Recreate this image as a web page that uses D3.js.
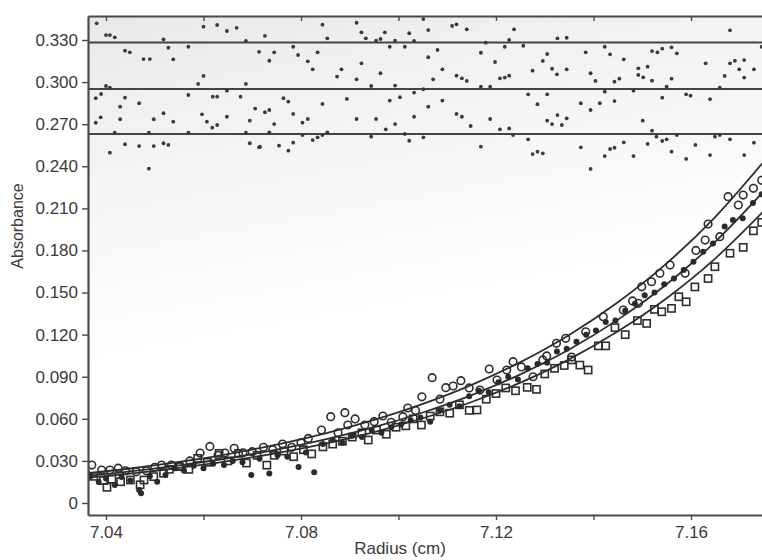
<!DOCTYPE html>
<html>
<head>
<meta charset="utf-8">
<script src="https://cdn.jsdelivr.net/npm/d3@7"></script>
<style>
  body { margin: 0; background: #fff; }
  text { font-family: "Liberation Sans", Arial, sans-serif; }
</style>
</head>
<body>
<svg id="chart" width="762" height="560"></svg>
<script>
// ---- Data -------------------------------------------------------------
// Sedimentation-equilibrium scans: radius (cm) vs absorbance, three loadings.
const openCircles = [
  [7.0355,0.0265],[7.0371,0.0270],[7.0391,0.0235],[7.0408,0.0235],[7.0425,0.0248],
  [7.0440,0.0230],[7.0462,0.0222],[7.0483,0.0230],[7.0500,0.0255],[7.0514,0.0270],
  [7.0534,0.0270],[7.0552,0.0262],[7.0572,0.0300],[7.0593,0.0356],[7.0613,0.0403],
  [7.0630,0.0340],[7.0644,0.0356],[7.0663,0.0390],[7.0681,0.0358],[7.0700,0.0366],
  [7.0723,0.0397],[7.0742,0.0380],[7.0762,0.0420],[7.0781,0.0397],[7.0800,0.0430],
  [7.0815,0.0460],[7.0842,0.0520],[7.0861,0.0615],[7.0876,0.0500],[7.0890,0.0644],
  [7.0896,0.0556],[7.0911,0.0599],[7.0931,0.0556],[7.0950,0.0580],[7.0968,0.0620],
  [7.0985,0.0575],[7.1009,0.0615],[7.1019,0.0677],[7.1035,0.0660],[7.1048,0.0757],
  [7.1069,0.0893],[7.1085,0.0740],[7.1097,0.0822],[7.1112,0.0834],[7.1128,0.0872],
  [7.1145,0.0820],[7.1167,0.0805],[7.1186,0.0955],[7.1202,0.0876],[7.1222,0.0948],
  [7.1235,0.1007],[7.1252,0.0970],[7.1276,0.0900],[7.1296,0.1020],[7.1304,0.1048],
  [7.1324,0.1138],[7.1343,0.1174],[7.1355,0.1040],[7.1384,0.1220],[7.1420,0.1328],
  [7.1461,0.1375],[7.1480,0.1440],[7.1492,0.1423],[7.1499,0.1541],[7.1519,0.1577],
  [7.1536,0.1637],[7.1557,0.1696],[7.1588,0.1637],[7.1610,0.1800],[7.1629,0.1874],
  [7.1635,0.1988],[7.1659,0.1898],[7.1676,0.2183],[7.1697,0.2124],[7.1707,0.2195],
  [7.1728,0.2243],[7.1745,0.2300]
];

const filledDots = [
  [7.0360,0.0164],[7.0368,0.0190],[7.0385,0.0150],[7.0400,0.0175],[7.0418,0.0128],
  [7.0432,0.0185],[7.0450,0.0160],[7.0468,0.0093],[7.0472,0.0069],[7.0490,0.0190],
  [7.0505,0.0152],[7.0522,0.0200],[7.0540,0.0247],[7.0560,0.0230],[7.0580,0.0265],
  [7.0600,0.0247],[7.0620,0.0280],[7.0642,0.0270],[7.0660,0.0300],[7.0680,0.0290],
  [7.0698,0.0200],[7.0715,0.0315],[7.0735,0.0210],[7.0752,0.0340],[7.0772,0.0330],
  [7.0795,0.0256],[7.0810,0.0360],[7.0827,0.0220],[7.0845,0.0420],[7.0865,0.0450],
  [7.0885,0.0430],[7.0905,0.0480],[7.0925,0.0470],[7.0945,0.0520],[7.0965,0.0500],
  [7.0985,0.0540],[7.1005,0.0560],[7.1025,0.0590],[7.1045,0.0610],[7.1065,0.0580],
  [7.1085,0.0660],[7.1105,0.0700],[7.1125,0.0690],[7.1145,0.0760],[7.1165,0.0800],
  [7.1185,0.0790],[7.1205,0.0860],[7.1225,0.0900],[7.1245,0.0880],[7.1265,0.0960],
  [7.1285,0.0990],[7.1305,0.1000],[7.1325,0.1080],[7.1345,0.1100],[7.1365,0.1150],
  [7.1385,0.1200],[7.1405,0.1230],[7.1425,0.1290],[7.1445,0.1300],[7.1465,0.1370],
  [7.1485,0.1420],[7.1505,0.1480],[7.1525,0.1500],[7.1545,0.1560],[7.1565,0.1600],
  [7.1585,0.1660],[7.1605,0.1720],[7.1625,0.1790],[7.1645,0.1850],[7.1669,0.1970],
  [7.1686,0.2017],[7.1706,0.2030],[7.1727,0.2138],[7.1745,0.2200]
];

const openSquares = [
  [7.0358,0.0200],[7.0375,0.0190],[7.0395,0.0160],[7.0402,0.0112],[7.0412,0.0170],
  [7.0430,0.0152],[7.0450,0.0164],[7.0470,0.0130],[7.0478,0.0164],[7.0498,0.0188],
  [7.0518,0.0212],[7.0530,0.0240],[7.0550,0.0259],[7.0570,0.0240],[7.0588,0.0318],
  [7.0608,0.0290],[7.0632,0.0354],[7.0650,0.0300],[7.0672,0.0354],[7.0688,0.0285],
  [7.0710,0.0340],[7.0730,0.0270],[7.0745,0.0340],[7.0765,0.0370],[7.0785,0.0330],
  [7.0805,0.0380],[7.0822,0.0350],[7.0845,0.0400],[7.0865,0.0420],[7.0885,0.0440],
  [7.0905,0.0470],[7.0925,0.0500],[7.0938,0.0449],[7.0955,0.0520],[7.0975,0.0490],
  [7.0995,0.0540],[7.1015,0.0550],[7.1030,0.0600],[7.1047,0.0556],[7.1065,0.0620],
  [7.1085,0.0650],[7.1105,0.0640],[7.1125,0.0700],[7.1145,0.0660],[7.1161,0.0663],
  [7.1180,0.0740],[7.1200,0.0780],[7.1220,0.0820],[7.1240,0.0800],[7.1264,0.0824],
  [7.1283,0.0810],[7.1300,0.0920],[7.1320,0.0960],[7.1340,0.0980],[7.1355,0.1020],
  [7.1372,0.0983],[7.1389,0.0948],[7.1410,0.1120],[7.1425,0.1120],[7.1444,0.1250],
  [7.1465,0.1200],[7.1490,0.1300],[7.1509,0.1280],[7.1525,0.1380],[7.1540,0.1363],
  [7.1560,0.1387],[7.1575,0.1470],[7.1590,0.1434],[7.1608,0.1540],[7.1635,0.1600],
  [7.1649,0.1684],[7.1680,0.1780],[7.1707,0.1822],[7.1728,0.1940],[7.1745,0.2000]
];

// Fitted single-species curves, sampled along the radius
const fitRadius  = [7.035,7.045,7.055,7.065,7.075,7.085,7.095,7.105,7.115,7.125,7.135,7.145,7.155,7.165,7.175];
const fitCircles = [0.0207,0.0246,0.0293,0.0349,0.0416,0.0496,0.0592,0.0706,0.0842,0.1004,0.1198,0.1431,0.1708,0.2040,0.2437];
const fitDots    = [0.0189,0.0225,0.0268,0.0319,0.0380,0.0453,0.0540,0.0645,0.0769,0.0917,0.1094,0.1307,0.1559,0.1863,0.2225];
const fitSquares = [0.0177,0.0210,0.0251,0.0298,0.0356,0.0424,0.0506,0.0604,0.0720,0.0858,0.1024,0.1224,0.1460,0.1744,0.2084];

// Residual strips drawn above the data: baseline level and [radius, residual]
const residualBaselines = [0.3282, 0.2951, 0.2630];
const residualsUpper = [
  [7.0381,0.0137],[7.0400,0.0053],[7.0408,0.0053],[7.0418,0.0037],[7.0439,-0.0058],
  [7.0449,-0.0070],[7.0477,-0.0118],[7.0490,-0.0118],[7.0518,0.0023],[7.0528,-0.0037],
  [7.0538,-0.0120],[7.0569,-0.0030],[7.0600,0.0113],[7.0628,0.0125],[7.0648,0.0082],
  [7.0668,0.0105],[7.0687,0.0011],[7.0714,-0.0066],[7.0726,0.0048],[7.0735,-0.0130],
  [7.0745,-0.0070],[7.0784,-0.0030],[7.0794,-0.0089],[7.0814,-0.0134],[7.0834,-0.0070],
  [7.0844,0.0127],[7.0854,0.0030],[7.0914,0.0141],[7.0924,0.0073],[7.0933,0.0030],
  [7.0954,0.0013],[7.0963,0.0025],[7.0972,0.0073],[7.0982,-0.0030],[7.0993,0.0013],
  [7.1013,-0.0030],[7.1022,0.0066],[7.1032,0.0011],[7.1051,0.0167],[7.1061,0.0089],
  [7.1061,-0.0105],[7.1080,-0.0053],[7.1110,0.0118],[7.1119,0.0130],[7.1140,0.0094],
  [7.1169,-0.0073],[7.1179,-0.0001],[7.1218,-0.0030],[7.1227,0.0018],[7.1237,0.0094],
  [7.1256,-0.0023],[7.1305,-0.0082],[7.1326,0.0030],[7.1345,0.0034],[7.1384,-0.0070],
  [7.1423,-0.0030],[7.1434,-0.0084],[7.1462,-0.0120],[7.1520,-0.0061],[7.1531,-0.0070],
  [7.1541,-0.0044],[7.1560,-0.0034],[7.1571,-0.0077],[7.1680,0.0087],[7.1690,-0.0130],
  [7.1709,-0.0125],[7.1745,-0.0030]
];
const residualsMiddle = [
  [7.0379,-0.0066],[7.0390,-0.0036],[7.0400,0.0021],[7.0408,0.0009],[7.0429,-0.0126],
  [7.0439,-0.0062],[7.0468,-0.0102],[7.0569,-0.0043],[7.0589,0.0036],[7.0600,0.0093],
  [7.0619,-0.0055],[7.0628,-0.0055],[7.0648,-0.0012],[7.0676,-0.0055],[7.0687,0.0036],
  [7.0706,-0.0140],[7.0735,-0.0150],[7.0764,-0.0066],[7.0774,-0.0090],[7.0824,0.0140],
  [7.0844,-0.0107],[7.0874,0.0088],[7.0883,0.0140],[7.0894,-0.0071],[7.0914,0.0069],
  [7.0924,0.0183],[7.0944,0.0021],[7.0963,0.0112],[7.0982,-0.0083],[7.0993,0.0024],
  [7.1003,-0.0059],[7.1032,-0.0026],[7.1051,-0.0002],[7.1061,-0.0126],[7.1071,0.0069],
  [7.1090,0.0140],[7.1090,-0.0083],[7.1119,0.0095],[7.1130,0.0076],[7.1140,0.0057],
  [7.1169,0.0016],[7.1188,0.0016],[7.1198,0.0192],[7.1208,0.0076],[7.1218,0.0081],
  [7.1227,0.0095],[7.1266,-0.0038],[7.1275,0.0130],[7.1285,-0.0109],[7.1296,0.0200],
  [7.1305,-0.0038],[7.1315,0.0144],[7.1325,0.0104],[7.1345,0.0140],[7.1374,-0.0102],
  [7.1394,0.0112],[7.1394,-0.0150],[7.1404,0.0057],[7.1413,-0.0102],[7.1423,-0.0019],
  [7.1443,0.0052],[7.1443,-0.0086],[7.1453,0.0073],[7.1482,-0.0012],[7.1492,0.0147],
  [7.1492,0.0100],[7.1502,0.0083],[7.1511,0.0159],[7.1520,0.0059],[7.1541,-0.0062],
  [7.1550,0.0016],[7.1560,0.0073],[7.1590,-0.0038],[7.1599,-0.0048],[7.1630,0.0183],
  [7.1639,-0.0073],[7.1659,0.0009],[7.1669,0.0093],[7.1680,0.0183],[7.1699,0.0140],
  [7.1709,0.0081],[7.1729,0.0140]
];
const residualsLower = [
  [7.0379,0.0081],[7.0389,0.0119],[7.0429,0.0105],[7.0418,0.0009],[7.0488,0.0009],
  [7.0498,0.0105],[7.0518,0.0148],[7.0538,0.0088],[7.0597,0.0140],[7.0607,0.0088],
  [7.0618,0.0045],[7.0628,0.0064],[7.0648,0.0123],[7.0695,0.0095],[7.0569,0.0009],
  [7.0687,0.0009],[7.0408,-0.0133],[7.0439,-0.0073],[7.0468,-0.0086],[7.0488,-0.0247],
  [7.0498,-0.0086],[7.0518,-0.0066],[7.0528,-0.0078],[7.0695,-0.0066],[7.0714,-0.0095],
  [7.0726,0.0155],[7.0745,0.0071],[7.0784,0.0143],[7.0803,0.0081],[7.0814,0.0107],
  [7.0914,0.0107],[7.0954,0.0107],[7.0974,0.0033],[7.0993,0.0071],[7.1032,0.0123],
  [7.1119,0.0143],[7.1130,0.0123],[7.1148,0.0057],[7.1188,0.0107],[7.1208,0.0033],
  [7.1227,0.0040],[7.0716,-0.0091],[7.0735,0.0012],[7.0755,-0.0083],[7.0774,-0.0119],
  [7.0784,-0.0062],[7.0803,-0.0007],[7.0824,-0.0043],[7.0834,-0.0024],[7.0844,-0.0007],
  [7.0854,0.0012],[7.0944,-0.0019],[7.1013,0.0000],[7.1022,-0.0048],[7.1051,-0.0024],
  [7.1169,-0.0090],[7.1235,-0.0007],[7.1266,-0.0038],[7.1275,-0.0143],[7.1285,-0.0126],
  [7.1296,-0.0138],[7.1305,0.0095],[7.1315,0.0071],[7.1326,0.0135],[7.1335,0.0064],
  [7.1345,0.0112],[7.1374,-0.0095],[7.1394,-0.0249],[7.1423,-0.0157],[7.1434,-0.0107],
  [7.1443,-0.0098],[7.1462,-0.0059],[7.1482,-0.0157],[7.1501,0.0095],[7.1511,-0.0071],
  [7.1520,0.0024],[7.1529,-0.0019],[7.1541,-0.0050],[7.1550,-0.0038],[7.1560,-0.0126],
  [7.1571,-0.0007],[7.1590,-0.0178],[7.1609,-0.0078],[7.1639,-0.0150],[7.1649,-0.0019],
  [7.1659,-0.0007],[7.1680,-0.0038],[7.1709,-0.0150],[7.1729,-0.0062]
];

// Axis ticks and labels
const xTicks = [7.04, 7.06, 7.08, 7.10, 7.12, 7.14, 7.16];
const xTickLabels = ["7.04", "", "7.08", "", "7.12", "", "7.16"];
const yTicks = [0, 0.03, 0.06, 0.09, 0.12, 0.15, 0.18, 0.21, 0.24, 0.27, 0.30, 0.33];
const yTickLabels = ["0","0.030","0.060","0.090","0.120","0.150","0.180","0.210","0.240","0.270","0.300","0.330"];
const xTitle = "Radius (cm)";
const yTitle = "Absorbance";

// ---- Layout & scales ---------------------------------------------------
const plot = { left: 88, right: 766, top: 16, bottom: 515 };
const x = d3.scaleLinear().domain([7.03631, 7.17538]).range([plot.left, plot.right]);
const y = d3.scaleLinear().domain([-0.00855, 0.3471]).range([plot.bottom, plot.top]);

const ink = "#2e2e2e";
const axisInk = "#4a4a4a";
const svg = d3.select("#chart");

// Soft grey wash behind the upper part of the plot
const defs = svg.append("defs");
const grad = defs.append("linearGradient").attr("id", "wash")
  .attr("x1", 0).attr("y1", 0).attr("x2", 0.25).attr("y2", 1);
grad.append("stop").attr("offset", "0%").attr("stop-color", "#e8e8e8");
grad.append("stop").attr("offset", "20%").attr("stop-color", "#f1f1f1");
grad.append("stop").attr("offset", "45%").attr("stop-color", "#f8f8f8");
grad.append("stop").attr("offset", "65%").attr("stop-color", "#ffffff");
defs.append("clipPath").attr("id", "plotClip").append("rect")
  .attr("x", plot.left).attr("y", plot.top)
  .attr("width", plot.right - plot.left).attr("height", plot.bottom - plot.top);

svg.append("rect")
  .attr("x", plot.left).attr("y", plot.top)
  .attr("width", plot.right - plot.left).attr("height", plot.bottom - plot.top)
  .attr("fill", "url(#wash)");

const area = svg.append("g").attr("clip-path", "url(#plotClip)");

// ---- Residual strips ---------------------------------------------------
const residualSets = [residualsUpper, residualsMiddle, residualsLower];
residualBaselines.forEach((base, i) => {
  area.append("line")
    .attr("x1", plot.left).attr("x2", plot.right)
    .attr("y1", y(base)).attr("y2", y(base))
    .attr("stroke", "#444").attr("stroke-width", 2);
  area.append("g").selectAll("circle")
    .data(residualSets[i]).join("circle")
    .attr("cx", d => x(d[0]))
    .attr("cy", d => y(base + d[1]))
    .attr("r", 1.9)
    .attr("fill", "#3a3a3a");
});

// ---- Fitted curves ----------------------------------------------------
const line = d3.line()
  .x((d, i) => x(fitRadius[i]))
  .y(d => y(d))
  .curve(d3.curveMonotoneX);
[fitCircles, fitDots, fitSquares].forEach(vals => {
  area.append("path").datum(vals)
    .attr("d", line)
    .attr("fill", "none")
    .attr("stroke", ink)
    .attr("stroke-width", 1.8);
});

// ---- Data points -------------------------------------------------------
area.append("g").selectAll("rect")
  .data(openSquares).join("rect")
  .attr("x", d => x(d[0]) - 3.6)
  .attr("y", d => y(d[1]) - 3.6)
  .attr("width", 7.2).attr("height", 7.2)
  .attr("fill", "none").attr("stroke", ink).attr("stroke-width", 1.6);

area.append("g").selectAll("circle")
  .data(openCircles).join("circle")
  .attr("cx", d => x(d[0])).attr("cy", d => y(d[1]))
  .attr("r", 3.8)
  .attr("fill", "none").attr("stroke", ink).attr("stroke-width", 1.6);

area.append("g").selectAll("circle")
  .data(filledDots).join("circle")
  .attr("cx", d => x(d[0])).attr("cy", d => y(d[1]))
  .attr("r", 3)
  .attr("fill", "#2a2a2a");

// ---- Axes --------------------------------------------------------------
function styleAxis(g) {
  g.select(".domain").attr("stroke", axisInk).attr("stroke-width", 2.2);
  g.selectAll(".tick line").attr("stroke", axisInk).attr("stroke-width", 1.4);
  g.selectAll(".tick text")
    .attr("fill", "#3a3a3a")
    .style("font-size", "17px")
    .style("font-family", "'Liberation Sans', Arial, sans-serif");
}

svg.append("g")
  .attr("transform", `translate(0,${plot.bottom})`)
  .call(d3.axisBottom(x).tickValues(xTicks)
    .tickFormat((d, i) => xTickLabels[i]).tickSize(5).tickSizeOuter(0).tickPadding(6))
  .call(styleAxis);

svg.append("g")
  .attr("transform", `translate(${plot.left},0)`)
  .call(d3.axisLeft(y).tickValues(yTicks)
    .tickFormat((d, i) => yTickLabels[i]).tickSize(6).tickSizeOuter(0).tickPadding(4))
  .call(styleAxis);

// Frame: top and right edges with inward ticks
svg.append("g")
  .attr("transform", `translate(0,${plot.top})`)
  .call(d3.axisTop(x).tickValues(xTicks).tickFormat("").tickSize(-5).tickSizeOuter(0))
  .call(styleAxis);

svg.append("g")
  .attr("transform", `translate(${plot.right},0)`)
  .call(d3.axisRight(y).tickValues(yTicks).tickFormat("").tickSize(-4).tickSizeOuter(0))
  .call(g => { styleAxis(g); g.selectAll(".tick line").attr("stroke", "#bbb"); });

// ---- Titles ------------------------------------------------------------
svg.append("text")
  .attr("x", 400)
  .attr("y", 554)
  .attr("text-anchor", "middle")
  .attr("fill", "#3a3a3a")
  .style("font-size", "17px")
  .text(xTitle);

svg.append("text")
  .attr("transform", "translate(23,226) rotate(-90)")
  .attr("text-anchor", "middle")
  .attr("fill", "#3a3a3a")
  .style("font-size", "16px")
  .text(yTitle);
</script>
</body>
</html>
